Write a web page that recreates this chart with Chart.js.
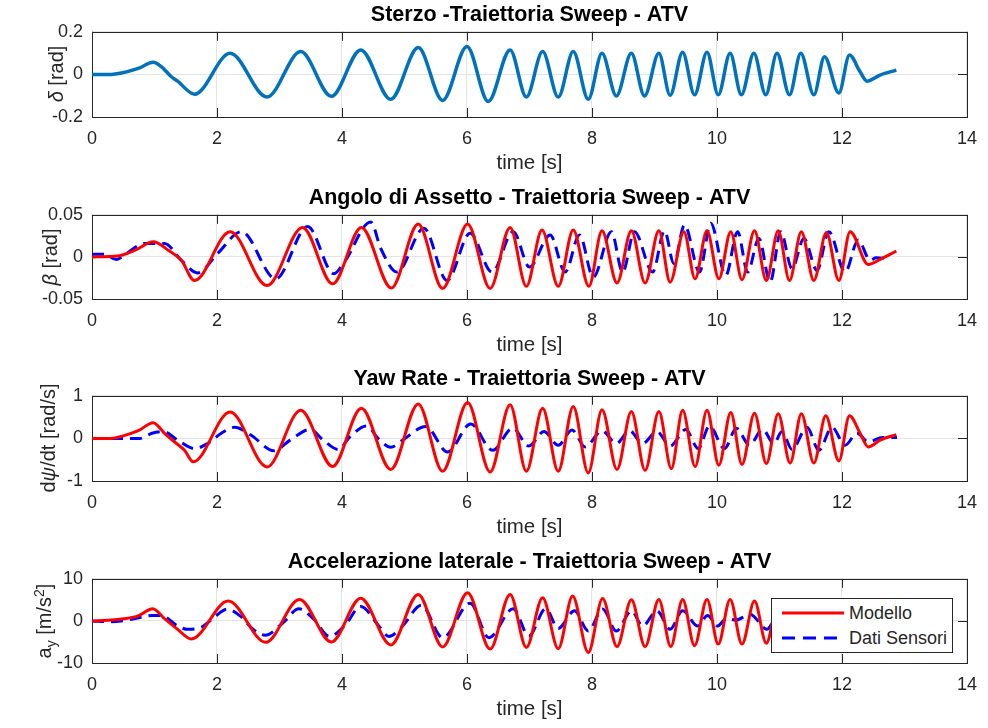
<!DOCTYPE html>
<html><head><meta charset="utf-8">
<script src="https://cdn.jsdelivr.net/npm/chart.js@4.4.0/dist/chart.umd.min.js"></script>
<style>
html,body{margin:0;padding:0;background:#fff;}
#wrap{position:relative;width:988px;height:728px;overflow:hidden;background:#fff;font-family:'Liberation Sans',Arial,Helvetica,sans-serif;}
#wrap canvas{position:absolute;left:0;}
.ylab{position:absolute;white-space:nowrap;transform:translate(-50%,-50%) rotate(-90deg);font-size:20px;color:#262626;line-height:1;}
.ylab sub,.ylab sup{font-size:14px;}
.legend{position:absolute;left:771px;top:598px;width:180px;height:53px;border:1px solid #262626;background:#fff;color:#262626;font-size:18px;}
.legend .t{position:absolute;left:77px;white-space:nowrap;transform:translateY(-50%);}
.legend svg{position:absolute;left:0;top:0;}
</style></head>
<body>
<div id="wrap">
<canvas id="c1" width="988" height="174" style="top:2px"></canvas>
<canvas id="c2" width="988" height="173" style="top:185px"></canvas>
<canvas id="c3" width="988" height="174" style="top:366px"></canvas>
<canvas id="c4" width="988" height="173" style="top:549px"></canvas>
<div class="ylab" style="left:56px;top:74px"><i>δ</i> [rad]</div>
<div class="ylab" style="left:50px;top:257px"><i>β</i> [rad]</div>
<div class="ylab" style="left:48px;top:438px">d<i>ψ</i>/dt [rad/s]</div>
<div class="ylab" style="left:45px;top:621px">a<sub>y</sub> [m/s<sup>2</sup>]</div>
<div class="legend">
<svg width="180" height="53"><line x1="10" y1="14" x2="72" y2="14" stroke="#ff0000" stroke-width="3"/><line x1="10" y1="39" x2="72" y2="39" stroke="#0000ff" stroke-width="3" stroke-dasharray="13 8"/></svg>
<div class="t" style="top:14px">Modello</div>
<div class="t" style="top:39px">Dati Sensori</div>
</div>
</div>
<script>
// ---- axis ticks ----
const xTicks = [0, 2, 4, 6, 8, 10, 12, 14];
const xTickLabels = ['0', '2', '4', '6', '8', '10', '12', '14'];
const steerTicks = [-0.2, 0, 0.2];
const steerTickLabels = ['-0.2', '0', '0.2'];
const betaTicks = [-0.05, 0, 0.05];
const betaTickLabels = ['-0.05', '0', '0.05'];
const yawTicks = [-1, 0, 1];
const yawTickLabels = ['-1', '0', '1'];
const ayTicks = [-10, 0, 10];
const ayTickLabels = ['-10', '0', '10'];

// ---- Sterzo (steering angle, rad) ----
const steerT = [0, 0.31, 0.45, 0.74, 0.98, 1.11, 1.27, 1.37, 1.64, 2.21, 2.80, 3.34, 3.83, 4.30, 4.78, 5.22, 5.61, 6.00, 6.34, 6.69, 6.95, 7.21, 7.46, 7.70, 7.94, 8.16, 8.39, 8.63, 8.84, 9.07, 9.25, 9.45, 9.64, 9.84, 10.02, 10.21, 10.39, 10.59, 10.78, 10.96, 11.16, 11.34, 11.55, 11.72, 11.95, 12.12, 12.29, 12.40, 12.61, 12.87];
const steerV = [0, 0, 0.005, 0.028, 0.057, 0.036, -0.011, -0.032, -0.093, 0.099, -0.106, 0.107, -0.103, 0.115, -0.117, 0.126, -0.122, 0.131, -0.127, 0.115, -0.106, 0.107, -0.106, 0.107, -0.117, 0.099, -0.101, 0.099, -0.101, 0.099, -0.098, 0.104, -0.096, 0.104, -0.096, 0.099, -0.096, 0.099, -0.096, 0.099, -0.096, 0.099, -0.096, 0.083, -0.087, 0.091, 0.012, -0.032, -0.003, 0.020];

// ---- Angolo di assetto (sideslip, rad) ----
const betaModT = [0, 0.4, 0.69, 0.98, 1.22, 1.43, 1.64, 2.21, 2.80, 3.37, 3.85, 4.31, 4.79, 5.22, 5.61, 6.01, 6.37, 6.69, 6.95, 7.20, 7.46, 7.70, 7.95, 8.16, 8.40, 8.63, 8.85, 9.07, 9.25, 9.47, 9.65, 9.84, 10.03, 10.22, 10.40, 10.60, 10.79, 10.98, 11.16, 11.35, 11.55, 11.75, 11.95, 12.13, 12.42, 12.61, 12.87];
const betaModV = [0, 0.001, 0.008, 0.018, 0.008, -0.004, -0.028, 0.030, -0.034, 0.035, -0.032, 0.035, -0.037, 0.039, -0.0375, 0.039, -0.0375, 0.035, -0.035, 0.032, -0.035, 0.032, -0.035, 0.031, -0.031, 0.031, -0.031, 0.031, -0.030, 0.030, -0.026, 0.031, -0.026, 0.030, -0.027, 0.031, -0.028, 0.031, -0.028, 0.030, -0.028, 0.029, -0.028, 0.030, -0.009, -0.003, 0.007];
const betaSenT = [0, 0.2, 0.39, 0.55, 0.84, 1.16, 1.43, 1.69, 2.01, 2.39, 2.94, 3.45, 3.87, 4.04, 4.46, 4.62, 4.88, 5.31, 5.68, 6.05, 6.40, 6.74, 7.00, 7.33, 7.57, 7.80, 8.02, 8.31, 8.49, 8.68, 8.97, 9.16, 9.31, 9.48, 9.72, 9.90, 10.14, 10.33, 10.49, 10.67, 10.85, 11.02, 11.20, 11.39, 11.60, 11.79, 12.05, 12.26, 12.45, 12.55, 12.72];
const betaSenV = [0.003, 0.003, -0.003, 0.004, 0.016, 0.016, -0.004, -0.019, 0.004, 0.030, -0.026, 0.036, -0.020, -0.006, 0.0415, 0.010, -0.018, 0.034, -0.028, 0.028, -0.018, 0.030, -0.012, 0.026, -0.018, 0.026, -0.024, 0.030, -0.018, 0.030, -0.018, 0.031, -0.008, 0.038, -0.018, 0.040, -0.022, 0.030, -0.018, 0.022, -0.030, 0.030, -0.014, 0.022, -0.016, 0.030, -0.018, 0.020, -0.004, -0.001, -0.002];

// ---- Yaw rate (rad/s) ----
const yawModT = [0, 0.3, 0.5, 0.74, 0.98, 1.16, 1.32, 1.48, 1.62, 2.21, 2.80, 3.34, 3.85, 4.31, 4.78, 5.22, 5.61, 6.01, 6.37, 6.69, 6.95, 7.21, 7.46, 7.70, 7.94, 8.16, 8.40, 8.63, 8.85, 9.07, 9.27, 9.45, 9.65, 9.84, 10.03, 10.22, 10.40, 10.60, 10.79, 10.98, 11.17, 11.35, 11.55, 11.74, 11.95, 12.12, 12.29, 12.42, 12.61, 12.87];
const yawModV = [0, 0, 0.06, 0.18, 0.37, 0.12, -0.08, -0.28, -0.55, 0.62, -0.67, 0.66, -0.66, 0.71, -0.73, 0.81, -0.77, 0.84, -0.79, 0.79, -0.77, 0.71, -0.77, 0.75, -0.81, 0.67, -0.73, 0.63, -0.75, 0.63, -0.71, 0.66, -0.66, 0.66, -0.63, 0.61, -0.61, 0.59, -0.59, 0.58, -0.58, 0.58, -0.58, 0.53, -0.53, 0.53, 0.12, -0.20, -0.04, 0.09];
const yawSenT = [0, 0.77, 0.96, 1.14, 1.37, 1.64, 1.85, 2.07, 2.28, 2.54, 2.91, 3.17, 3.49, 3.70, 3.94, 4.13, 4.39, 4.59, 4.78, 4.97, 5.34, 5.69, 6.06, 6.41, 6.73, 6.99, 7.23, 7.46, 7.68, 7.89, 8.16, 8.39, 8.60, 8.81, 9.04, 9.25, 9.50, 9.70, 9.88, 10.12, 10.31, 10.52, 10.73, 10.91, 11.04, 11.20, 11.44, 11.63, 11.84, 12.05, 12.24, 12.42, 12.65, 12.88];
const yawSenV = [0, 0, 0.12, 0.16, -0.04, -0.24, -0.12, 0.12, 0.26, 0.08, -0.29, -0.04, 0.21, -0.04, -0.26, 0.04, 0.29, -0.02, -0.21, -0.04, 0.28, -0.32, 0.34, -0.28, 0.24, -0.18, 0.16, -0.16, 0.20, -0.20, 0.18, -0.12, 0.18, -0.12, 0.16, -0.18, 0.21, -0.24, 0.29, -0.24, 0.24, -0.16, 0.21, -0.12, 0.16, -0.26, 0.26, -0.28, 0.26, -0.16, 0.12, -0.08, 0.02, 0.02];

// ---- Accelerazione laterale (m/s^2) ----
const ayModT = [0, 0.3, 0.5, 0.74, 0.97, 1.16, 1.37, 1.59, 2.18, 2.78, 3.32, 3.83, 4.30, 4.78, 5.22, 5.61, 6.01, 6.37, 6.69, 6.95, 7.21, 7.46, 7.69, 7.94, 8.17, 8.40, 8.63, 8.85, 9.07, 9.26, 9.45, 9.64, 9.84, 10.02, 10.21, 10.40, 10.60, 10.79, 10.98, 11.17, 11.35, 11.55, 11.74, 11.95, 12.12, 12.29, 12.42, 12.61, 12.87];
const ayModV = [0, 0.2, 0.5, 1.2, 2.9, 0.55, -2.0, -4.3, 4.7, -5.1, 5.1, -5.0, 5.4, -5.7, 6.3, -6.2, 6.7, -6.7, 6.3, -6.3, 5.5, -6.6, 5.9, -7.5, 5.3, -6.1, 5.0, -6.1, 5.1, -6.1, 5.1, -5.9, 5.1, -5.5, 5.1, -5.5, 4.7, -5.3, 4.6, -5.2, 4.6, -5.2, 4.3, -4.8, 4.3, 1.0, -1.8, -0.5, 0.8];
const aySenT = [0, 0.3, 0.64, 0.96, 1.11, 1.37, 1.53, 1.74, 1.95, 2.16, 2.37, 2.58, 2.77, 3.06, 3.31, 3.55, 3.80, 4.04, 4.30, 4.59, 4.75, 4.97, 5.27, 5.61, 6.05, 6.35, 6.74, 6.99, 7.26, 7.46, 7.72, 7.94, 8.17, 8.39, 8.63, 8.81, 9.04, 9.25, 9.45, 9.69, 9.85, 10.01, 10.15, 10.30, 10.53, 10.80, 10.98, 11.17, 11.39, 11.60, 11.80, 12.05, 12.25, 12.45, 12.75];
const aySenV = [0, -0.2, 0.4, 1.3, 1.3, -1.2, -2.0, -1.6, 0.8, 2.8, 1.2, -2.0, -3.4, -0.4, 2.9, 0.4, -3.7, -1.2, 3.4, -1.2, -3.7, -1.2, 3.7, -4.0, 4.2, -4.0, 2.9, -3.6, 2.9, -1.8, 2.4, -2.4, 2.8, -2.4, 2.4, -1.2, 2.4, -2.0, 2.4, -1.2, 1.3, -1.2, 0.55, 0.2, 1.6, -2.0, 1.5, -1.5, 1.8, -1.8, 1.8, -1.5, 1.0, -0.5, 0.0];

// ---- rendering ----
const F = "'Liberation Sans', Arial, Helvetica, sans-serif";
const AX = '#262626';
const GRID = '#e4e4e4';
const zip = (t, v) => t.map((x, i) => ({x: x, y: v[i]}));

const boxPlugin = {
  id: 'matlabBox',
  beforeDatasetsDraw(chart) {
    const {ctx, chartArea: a, scales} = chart;
    const tl = 9;
    ctx.save();
    ctx.strokeStyle = AX;
    ctx.lineWidth = 1;
    ctx.beginPath();
    scales.x.ticks.forEach(t => {
      const p = Math.round(scales.x.getPixelForValue(t.value)) + 0.5;
      ctx.moveTo(p, a.top); ctx.lineTo(p, a.top + tl);
      ctx.moveTo(p, a.bottom); ctx.lineTo(p, a.bottom - tl);
    });
    scales.y.ticks.forEach(t => {
      const p = Math.round(scales.y.getPixelForValue(t.value)) + 0.5;
      ctx.moveTo(a.left, p); ctx.lineTo(a.left + tl, p);
      ctx.moveTo(a.right, p); ctx.lineTo(a.right - tl, p);
    });
    ctx.stroke();
    ctx.strokeRect(Math.round(a.left) + 0.5, Math.round(a.top) + 0.5, Math.round(a.right - a.left), Math.round(a.bottom - a.top));
    ctx.restore();
  }
};

function makeChart(id, title, datasets, yTicks, yLabels) {
  const ctx = document.getElementById(id).getContext('2d');
  return new Chart(ctx, {
    type: 'line',
    data: {datasets: datasets},
    options: {
      responsive: false,
      animation: false,
      devicePixelRatio: 1,
      layout: {padding: {left: 0, right: 16, top: 0, bottom: 0}},
      elements: {point: {radius: 0}, line: {cubicInterpolationMode: 'monotone', borderJoinStyle: 'round'}},
      plugins: {
        legend: {display: false},
        tooltip: {enabled: false},
        title: {display: true, text: title, fullSize: false, color: '#000', font: {family: F, size: 21.5, weight: 'bold'}, padding: {top: 0, bottom: 4}}
      },
      scales: {
        x: {
          type: 'linear', min: xTicks[0], max: xTicks[xTicks.length - 1],
          afterFit: s => { s.height = 59; },
          afterBuildTicks: s => { s.ticks = xTicks.map(v => ({value: v})); },
          ticks: {autoSkip: false, maxRotation: 0, padding: 11, color: AX, font: {family: F, size: 18},
                  callback: v => xTickLabels[xTicks.indexOf(v)]},
          grid: {color: GRID, drawTicks: false, lineWidth: 1},
          border: {display: false},
          title: {display: true, text: 'time [s]', color: AX, font: {family: F, size: 20.5}, padding: 0}
        },
        y: {
          type: 'linear', min: yTicks[0], max: yTicks[yTicks.length - 1],
          afterFit: s => { s.width = 92; },
          afterBuildTicks: s => { s.ticks = yTicks.map(v => ({value: v})); },
          ticks: {autoSkip: false, padding: 9, color: AX, font: {family: F, size: 18},
                  callback: v => yLabels[yTicks.indexOf(v)]},
          grid: {color: GRID, drawTicks: false, lineWidth: 1},
          border: {display: false}
        }
      }
    },
    plugins: [boxPlugin]
  });
}

const RED = '#ff0000', BLUE = '#0000ff';
const modStyle = {borderColor: RED, borderWidth: 3, fill: false};
const senStyle = {borderColor: BLUE, borderWidth: 3, borderDash: [12, 7], fill: false};

makeChart('c1', 'Sterzo -Traiettoria Sweep - ATV',
  [{label: 'Sterzo', data: zip(steerT, steerV), borderColor: '#0072BD', borderWidth: 3.5, fill: false}],
  steerTicks, steerTickLabels);
makeChart('c2', 'Angolo di Assetto - Traiettoria Sweep - ATV',
  [Object.assign({label: 'Modello', data: zip(betaModT, betaModV)}, modStyle),
   Object.assign({label: 'Dati Sensori', data: zip(betaSenT, betaSenV)}, senStyle)],
  betaTicks, betaTickLabels);
makeChart('c3', 'Yaw Rate - Traiettoria Sweep - ATV',
  [Object.assign({label: 'Modello', data: zip(yawModT, yawModV)}, modStyle),
   Object.assign({label: 'Dati Sensori', data: zip(yawSenT, yawSenV)}, senStyle)],
  yawTicks, yawTickLabels);
makeChart('c4', 'Accelerazione laterale - Traiettoria Sweep - ATV',
  [Object.assign({label: 'Modello', data: zip(ayModT, ayModV)}, modStyle),
   Object.assign({label: 'Dati Sensori', data: zip(aySenT, aySenV)}, senStyle)],
  ayTicks, ayTickLabels);
</script>
</body></html>
